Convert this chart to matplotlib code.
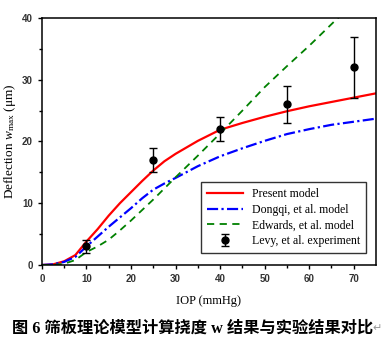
import numpy as np
import matplotlib
matplotlib.use("Agg")
import matplotlib.pyplot as plt

plt.rcParams['mathtext.fontset'] = 'custom'
plt.rcParams['mathtext.rm'] = 'Liberation Serif'
plt.rcParams['mathtext.it'] = 'Liberation Serif:italic'

# model curves
x_model = [0, 2.5, 5, 7.5, 10, 12.5, 15, 17.5, 20, 22.5, 25, 27.5, 30, 35, 40, 45, 50, 55, 60, 65, 70, 75]
present = [0, 0.1, 0.6, 1.6, 3.8, 5.8, 8.0, 10.0, 11.8, 13.6, 15.3, 16.8, 18.0, 20.1, 21.9, 23.0, 24.0, 24.9, 25.7, 26.4, 27.1, 27.8]
dongqi = [0, 0.1, 0.5, 1.3, 3.0, 4.6, 6.2, 7.7, 9.2, 10.8, 12.2, 13.2, 14.1, 16.0, 17.6, 18.9, 20.1, 21.2, 22.0, 22.7, 23.2, 23.7]
edwards = [0, 0.0, 0.2, 0.8, 2.1, 3.0, 4.1, 5.6, 7.2, 8.9, 10.6, 12.4, 14.2, 17.7, 21.3, 25.0, 28.8, 32.2, 35.5, 39.0, 42.5, 46.0]

# experiment
x_exp = [10, 25, 40, 55, 70]
y_exp = [3, 17, 22, 26, 32]
err_exp = [1, 2, 2, 3, 5]

fig = plt.figure(figsize=(3.81, 3.44), dpi=100)
ax = fig.add_axes([0.110, 0.2297, 0.877, 0.718])

ax.plot(x_model, present, color='#ff0000', lw=1.6, label='Present model')
ax.plot(x_model, dongqi, color='#0000ff', lw=1.6, ls=(0, (5, 1.5, 1, 1.5)),
        label='Dongqi, et al. model')
ax.plot(x_model, edwards, color='#008000', lw=1.3, ls=(0, (4, 3)),
        label='Edwards, et al. model')
ax.errorbar(x_exp, y_exp, yerr=err_exp, fmt='o', color='black', ms=5,
            elinewidth=1, capsize=3, capthick=1, label='Levy, et al. experiment')

ax.set_xlim(0, 75)
ax.set_ylim(0, 40)
ax.set_xticks(np.arange(0, 71, 10))
ax.set_xticks(np.arange(5, 75, 10), minor=True)
ax.set_yticks(np.arange(0, 41, 10))
ax.set_yticks(np.arange(5, 40, 10), minor=True)
ax.tick_params(which='both', direction='out', width=1, colors='black',
               labelcolor='#333333', labelsize=7)
ax.tick_params(which='major', length=3)
ax.tick_params(which='minor', length=2)
for lab in ax.get_xticklabels() + ax.get_yticklabels():
    lab.set_family('Liberation Sans')
    lab.set_fontweight('bold')
for sp in ax.spines.values():
    sp.set_linewidth(1.1)

ax.set_xlabel('IOP (mmHg)', family='Liberation Serif', fontsize=9, labelpad=8)
ax.set_ylabel(r'Deflection $\mathit{w}_{\rm max}$ (μm)', family='Liberation Serif',
              fontsize=9.5, labelpad=3)

leg = ax.legend(loc='lower right', bbox_to_anchor=(0.988, 0.025),
                prop={'family': 'Liberation Serif', 'size': 8.5},
                frameon=True, fancybox=False, edgecolor='black',
                handlelength=3, borderpad=0.5, labelspacing=0.3)
leg.get_frame().set_linewidth(1)

fig.text(0.505, 0.045, '图 6 筛板理论模型计算挠度 w 结果与实验结果对比',
         ha='center', va='center', fontsize=11.7, fontweight='bold',
         family=['Liberation Serif', 'Noto Sans CJK SC'])
fig.text(0.99, 0.045, '↵', ha='center', va='center', fontsize=8,
         color='#999999', family='DejaVu Sans')

fig.savefig('out.png', dpi=100)
